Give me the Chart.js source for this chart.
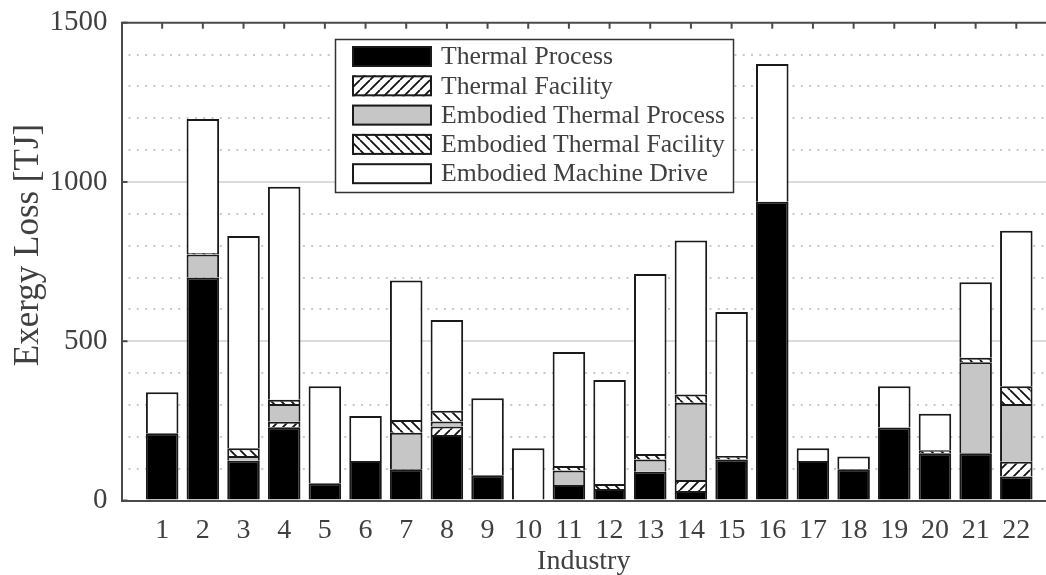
<!DOCTYPE html>
<html><head><meta charset="utf-8">
<script src="https://cdn.jsdelivr.net/npm/chart.js@4.4.1/dist/chart.umd.min.js"></script>
<style>html,body{margin:0;padding:0;background:#fff;overflow:hidden}canvas{display:block}</style>
</head><body>
<canvas id="c" width="1046" height="575"></canvas>
<script>
const categories = ['1','2','3','4','5','6','7','8','9','10','11','12','13','14','15','16','17','18','19','20','21','22'];
const thermalProcess          = [211,700,125,230,54,124,98,206,79,0,49,36,90,30,129,938,124,98,229,148,148,75];
const thermalFacility         = [0,0,0,17,0,0,0,26,0,0,0,0,0,34,0,0,0,0,0,0,0,47];
const embodiedThermalProcess  = [0,72,15,56,0,0,115,16,0,0,45,0,39,243,0,0,0,0,0,0,286,181];
const embodiedThermalFacility = [0,5,24,13,0,0,40,34,0,0,14,16,17,26,11,0,0,0,0,10,14,56];
const embodiedMachineDrive    = [129,421,666,669,305,141,438,285,242,164,358,326,565,483,452,432,40,40,130,114,237,488];
const seriesNames = ['Thermal Process','Thermal Facility','Embodied Thermal Process','Embodied Thermal Facility','Embodied Machine Drive'];
const yTickValues = [0,500,1000,1500];
const yMinorGrid = [100,200,300,400,600,700,800,900,1100,1200,1300,1400];
const yTitle = 'Exergy Loss [TJ]';
const xTitle = 'Industry';

const canvas = document.getElementById('c');
const mainCtx = canvas.getContext('2d');
function hatch(dir){
  const s = 10;
  const t = document.createElement('canvas'); t.width = s; t.height = s;
  const g = t.getContext('2d');
  g.fillStyle = '#fff'; g.fillRect(0,0,s,s);
  g.strokeStyle = '#111'; g.lineWidth = 1.8; g.beginPath();
  for (let k=-1;k<=1;k++){
    if (dir>0){ g.moveTo(k*s, s); g.lineTo(k*s+s, 0); }
    else { g.moveTo(k*s, 0); g.lineTo(k*s+s, s); }
  }
  g.stroke();
  return mainCtx.createPattern(t,'repeat');
}
const fills = ['#000000', hatch(1), '#c6c6c6', hatch(-1), '#ffffff'];
const seriesData = [thermalProcess, thermalFacility, embodiedThermalProcess, embodiedThermalFacility, embodiedMachineDrive];
const FONT = '"Liberation Serif", "Times New Roman", serif';
const TXT = '#404040';

const datasets = seriesData.map((arr,i)=>({
  label: seriesNames[i],
  data: arr.map((v,j)=>({x:j+1, y:v})),
  backgroundColor: fills[i],
  borderColor: '#1a1a1a',
  borderWidth: {top:2,left:2,right:2,bottom:0},
  borderSkipped: false,
  barPercentage: 0.8,
  categoryPercentage: 1,
  stack: 's'
}));

const minorGridPlugin = {
  id: 'minorGrid',
  beforeDatasetsDraw(chart){
    const {ctx, chartArea:a, scales:{y}} = chart;
    ctx.save();
    ctx.strokeStyle = '#c8c8c8'; ctx.lineWidth = 2; ctx.setLineDash([2,6.3]);
    yMinorGrid.forEach(v=>{
      const py = Math.round(y.getPixelForValue(v));
      ctx.beginPath(); ctx.moveTo(a.left+7, py); ctx.lineTo(a.right, py); ctx.stroke();
    });
    ctx.restore();
  }
};
const axesPlugin = {
  id: 'axesBox',
  afterDatasetsDraw(chart){
    const {ctx, chartArea:a, scales:{x,y}} = chart;
    ctx.save();
    ctx.strokeStyle = '#4a4a4a'; ctx.lineWidth = 2;
    ctx.beginPath(); ctx.moveTo(a.left, a.top); ctx.lineTo(a.right, a.top); ctx.stroke();
    x.ticks.forEach(t=>{
      const px = x.getPixelForValue(t.value);
      ctx.beginPath(); ctx.moveTo(px, a.top); ctx.lineTo(px, a.top+6); ctx.stroke();
    });
    yTickValues.forEach(v=>{
      const py = y.getPixelForValue(v);
      ctx.beginPath(); ctx.moveTo(a.left, py); ctx.lineTo(a.left+6, py); ctx.stroke();
    });
    // y axis title
    ctx.fillStyle = TXT; ctx.font = '35px ' + FONT;
    ctx.textAlign = 'center'; ctx.textBaseline = 'middle';
    ctx.translate(29, 245); ctx.rotate(-Math.PI/2);
    ctx.fillText(yTitle, 0, 0);
    ctx.restore();
  }
};
const legendPlugin = {
  id: 'boxLegend',
  afterDraw(chart){
    const ctx = chart.ctx;
    ctx.save();
    ctx.fillStyle = '#fff'; ctx.fillRect(335,39,399,154);
    ctx.strokeStyle = '#333'; ctx.lineWidth = 1.5; ctx.strokeRect(335.5,39.5,398,153);
    chart.data.datasets.forEach((ds,i)=>{
      const yc = 56.5 + i*29.3;
      ctx.fillStyle = ds.backgroundColor; ctx.fillRect(352,yc-10.5,80,21);
      ctx.lineWidth = 2; ctx.strokeStyle = '#1a1a1a'; ctx.strokeRect(353,yc-9.5,78,19);
      ctx.fillStyle = TXT; ctx.font = '25.7px ' + FONT; ctx.textBaseline = 'middle'; ctx.textAlign='left';
      ctx.fillText(ds.label, 441, yc+1);
    });
    ctx.restore();
  }
};

new Chart(canvas, {
  type: 'bar',
  data: { datasets },
  plugins: [minorGridPlugin, axesPlugin, legendPlugin],
  options: {
    responsive: false,
    animation: false,
    devicePixelRatio: 1,
    layout: { padding: { top: 22.7, left: 0, right: 0, bottom: 0 } },
    plugins: { legend: { display: false }, tooltip: { enabled: false } },
    scales: {
      x: {
        type: 'linear', stacked: true, offset: false, min: 0, max: 22.73,
        afterBuildTicks(scale){ scale.ticks = categories.map((c,i)=>({value:i+1})); },
        afterFit(scale){ scale.height = 74.5; scale.paddingLeft = 0; scale.paddingRight = 0; },
        grid: { display: false, drawTicks: false, offset: false },
        border: { display: true, color: '#4a4a4a', width: 2 },
        ticks: { autoSkip: false, maxRotation: 0, minRotation: 0, padding: 13.5,
                 color: TXT, font: { family: FONT, size: 28, lineHeight: 1.2 },
                 callback: (v)=>categories[v-1] },
        title: { display: true, text: xTitle, color: TXT,
                 font: { family: FONT, size: 28, lineHeight: 1 }, padding: { top: 0, bottom: -1 } }
      },
      y: {
        stacked: true, min: 0, max: 1500,
        afterBuildTicks(scale){ scale.ticks = yTickValues.map(v=>({value:v})); },
        afterFit(scale){ scale.width = 121.5; scale.paddingTop = 0; scale.paddingBottom = 0; },
        grid: { drawTicks: false, lineWidth: 2,
                color: (c)=> (c.tick && (c.tick.value===0 || c.tick.value===1500)) ? 'rgba(0,0,0,0)' : '#dcdcdc' },
        border: { display: true, color: '#4a4a4a', width: 2 },
        ticks: { padding: 14, color: TXT, font: { family: FONT, size: 29, lineHeight: 1.2 },
                 callback: (v)=>String(v) },
        title: { display: false }
      }
    }
  }
});
</script>
</body></html>
